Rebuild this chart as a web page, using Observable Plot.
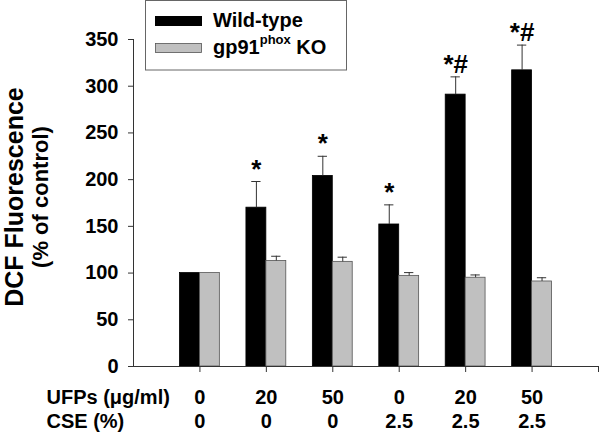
<!DOCTYPE html>
<html>
<head>
<meta charset="utf-8">
<script src="https://cdn.jsdelivr.net/npm/d3@7"></script>
<script src="https://cdn.jsdelivr.net/npm/@observablehq/plot@0.6"></script>
<style>
  html, body { margin: 0; padding: 0; background: #fff; }
  #chart { width: 600px; height: 432px; }
</style>
</head>
<body>
<div id="chart"></div>
<script>
const ufps = ["0", "20", "50", "0", "20", "50"];
const cse = ["0", "0", "0", "2.5", "2.5", "2.5"];
const wildType = [100, 170, 204, 152, 291, 317];
const wildTypeErr = [0, 28, 21, 21, 19, 27];
const knockout = [100, 113, 112, 97, 95, 91];
const knockoutErr = [0, 5, 5, 3.5, 3, 4];
const significance = ["", "*", "*", "*", "*#", "*#"];
const yTicks = [0, 50, 100, 150, 200, 250, 300, 350];
const seriesNames = ["Wild-type", "gp91phox KO"];

const FONT = '"Liberation Sans", Arial, Helvetica, sans-serif';
const barW = 0.3;

const rows = [];
ufps.forEach((u, i) => {
  const g = i + 1;
  rows.push({g, s: seriesNames[0], x1: g - barW, x2: g, c: g - barW / 2, v: wildType[i], e: wildTypeErr[i]});
  rows.push({g, s: seriesNames[1], x1: g, x2: g + barW, c: g + barW / 2, v: knockout[i], e: knockoutErr[i]});
});
const errRows = rows.filter(d => d.e > 0);
const groups = ufps.map((u, i) => ({g: i + 1, ufp: u, cse: cse[i], sig: significance[i], top: wildType[i] + wildTypeErr[i], c: i + 1 - barW / 2}));

const plot = Plot.plot({
  width: 600,
  height: 432,
  marginTop: 39,
  marginBottom: 66,
  marginLeft: 133,
  marginRight: 2,
  style: {fontFamily: FONT, background: "#fff", overflow: "visible"},
  x: {domain: [0, 7]},
  y: {domain: [0, 350]},
  marks: [
    Plot.rectY(rows, {
      x1: "x1", x2: "x2", y1: 0, y2: "v",
      fill: d => d.s === seriesNames[0] ? "#000" : "#c0c0c0",
      stroke: d => d.s === seriesNames[0] ? "#000" : "#555",
      strokeWidth: 0.8
    }),
    Plot.ruleX(errRows, {x: "c", y1: "v", y2: d => d.v + d.e, stroke: "#333", strokeWidth: 1}),
    Plot.ruleY(errRows, {y: d => d.v + d.e, x1: d => d.c - 0.07, x2: d => d.c + 0.07, stroke: "#333", strokeWidth: 1}),
    Plot.text(groups.filter(d => d.sig), {
      x: "c", y: "top", text: "sig", dy: -4, lineAnchor: "bottom",
      fontSize: 26, fontWeight: "bold", fill: "#000"
    }),
    Plot.ruleX([0], {y1: 0, y2: 350, stroke: "#333"}),
    Plot.ruleY([0], {x1: 0, x2: 7, stroke: "#333"}),
    Plot.axisY({ticks: yTicks, tickSize: 5, tickPadding: 10, fontSize: 20, fontWeight: "bold", label: null, stroke: "#333", color: "#000"}),
    Plot.axisX({ticks: [1, 2, 3, 4, 5, 6, 7], tickSize: 6, tickFormat: () => "", label: null, stroke: "#333"}),
    Plot.text(groups, {x: "g", text: "ufp", frameAnchor: "bottom", dy: 31, lineAnchor: "middle", fontSize: 20, fontWeight: "bold", fill: "#000"}),
    Plot.text(groups, {x: "g", text: "cse", frameAnchor: "bottom", dy: 55, lineAnchor: "middle", fontSize: 20, fontWeight: "bold", fill: "#000"}),
    Plot.text(["UFPs (μg/ml)"], {frameAnchor: "bottom-left", text: d => d, textAnchor: "start", dx: -87, dy: 31, lineAnchor: "middle", fontSize: 20, fontWeight: "bold", fill: "#000"}),
    Plot.text(["CSE (%)"], {frameAnchor: "bottom-left", text: d => d, textAnchor: "start", dx: -87, dy: 55, lineAnchor: "middle", fontSize: 20, fontWeight: "bold", fill: "#000"})
  ]
});

document.getElementById("chart").appendChild(plot);

const svg = d3.select(plot);
// Y axis title (two lines)
svg.append("text")
  .attr("transform", "translate(23,197) rotate(-90)")
  .attr("text-anchor", "middle")
  .attr("font-family", FONT).attr("font-weight", "bold").attr("font-size", 25)
  .attr("fill", "#000")
  .text("DCF Fluorescence");
svg.append("text")
  .attr("transform", "translate(48,197) rotate(-90)")
  .attr("text-anchor", "middle")
  .attr("font-family", FONT).attr("font-weight", "bold").attr("font-size", 22)
  .attr("fill", "#000")
  .text("(% of control)");

// Legend
const lg = svg.append("g").attr("font-family", FONT).attr("font-weight", "bold").attr("text-anchor", "start");
lg.append("rect").attr("x", 145.5).attr("y", 0.5).attr("width", 201).attr("height", 69.5)
  .attr("fill", "#fff").attr("stroke", "#666").attr("stroke-width", 1);
lg.append("rect").attr("x", 155).attr("y", 16).attr("width", 47).attr("height", 10).attr("fill", "#000");
lg.append("rect").attr("x", 155.5).attr("y", 43.5).attr("width", 46).attr("height", 9)
  .attr("fill", "#c0c0c0").attr("stroke", "#555").attr("stroke-width", 0.8);
lg.append("text").attr("x", 213).attr("y", 27).attr("font-size", 20).attr("fill", "#000").text("Wild-type");
const t2 = lg.append("text").attr("x", 213).attr("y", 54).attr("font-size", 20).attr("fill", "#000");
t2.append("tspan").text("gp91");
t2.append("tspan").attr("font-size", 13).attr("dy", -10).text("phox");
t2.append("tspan").attr("dy", 10).text(" KO");
</script>
</body>
</html>
